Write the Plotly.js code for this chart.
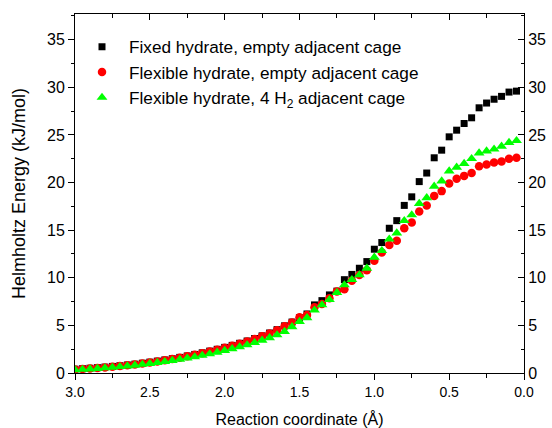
<!DOCTYPE html>
<html>
<head>
<meta charset="utf-8">
<script src="https://cdn.plot.ly/plotly-3.0.1.min.js"></script>
<style>html,body{margin:0;padding:0;background:#fff;}#chart{width:552px;height:428px;}</style>
</head>
<body>
<div id="chart"></div>
<script>
const reactionCoord = [3.00,2.95,2.90,2.85,2.80,2.75,2.70,2.65,2.60,2.55,2.50,2.45,2.40,2.35,2.30,2.25,2.20,2.15,2.10,2.05,
  2.00,1.95,1.90,1.85,1.80,1.75,1.70,1.65,1.60,1.55,1.50,1.45,1.40,1.35,1.30,1.25,1.20,1.15,1.10,1.05,
  1.00,0.95,0.90,0.85,0.80,0.75,0.70,0.65,0.60,0.55,0.50,0.45,0.40,0.35,0.30,0.25,0.20,0.15,0.10,0.05];

const fixedEmpty = [0.40,0.45,0.50,0.56,0.62,0.69,0.76,0.84,0.93,1.03,1.14,1.25,1.37,1.50,1.64,1.79,1.95,2.12,2.30,2.49,
  2.69,2.90,3.12,3.36,3.62,3.90,4.20,4.55,4.95,5.35,5.80,6.20,7.15,7.60,8.20,8.60,9.80,10.35,11.00,11.70,
  13.00,13.70,15.20,16.00,17.60,18.50,20.10,21.00,22.60,23.40,24.80,25.50,26.20,26.80,27.85,28.35,28.75,29.05,29.50,29.60];

const flexibleEmpty = [0.37,0.42,0.47,0.53,0.59,0.66,0.73,0.81,0.90,1.00,1.10,1.21,1.33,1.46,1.60,1.75,1.91,2.08,2.26,2.45,
  2.65,2.86,3.08,3.32,3.58,3.85,4.15,4.50,4.90,5.30,5.85,6.10,6.90,7.25,7.85,8.55,8.80,9.70,10.30,10.80,
  11.80,12.65,13.45,13.90,15.20,15.80,16.95,17.60,18.60,19.10,19.90,20.40,20.70,21.00,21.70,21.90,22.10,22.20,22.50,22.60];

const flexibleH2 = [0.33,0.37,0.42,0.47,0.53,0.59,0.66,0.73,0.81,0.90,0.99,1.09,1.19,1.30,1.42,1.55,1.69,1.84,2.00,2.17,
  2.35,2.54,2.74,2.95,3.18,3.43,3.70,4.00,4.35,4.85,5.40,5.80,6.60,7.15,7.70,8.45,9.25,9.80,10.30,11.00,
  12.15,12.85,14.05,14.70,16.00,16.60,17.80,18.40,19.60,20.15,21.20,21.60,22.00,22.50,23.10,23.30,23.50,23.80,24.20,24.40];

const seriesNames = ["Fixed hydrate, empty adjacent cage", "Flexible hydrate, empty adjacent cage", "Flexible hydrate, 4 H<sub>2</sub> adjacent cage"];
const yTickVals = [0,5,10,15,20,25,30,35];
const xTickVals = [3.0,2.5,2.0,1.5,1.0,0.5,0.0];
const xTickText = ["3.0","2.5","2.0","1.5","1.0","0.5","0.0"];

const FONT = "Liberation Sans, Arial, sans-serif";

const traces = [
  {x: reactionCoord, y: fixedEmpty, name: seriesNames[0], type: "scatter", mode: "markers",
   marker: {symbol: "square", size: 7, color: "#000000"}},
  {x: reactionCoord, y: flexibleEmpty, name: seriesNames[1], type: "scatter", mode: "markers",
   marker: {symbol: "circle", size: 8.5, color: "#ff0000"}},
  {x: reactionCoord, y: flexibleH2, name: seriesNames[2], type: "scatter", mode: "markers",
   xaxis: "x2", yaxis: "y2",
   marker: {symbol: "triangle-up", size: 9.5, color: "#00ff00"}}
];

const axCommon = {showgrid: false, zeroline: false, showline: true, linecolor: "#000", linewidth: 1,
  tickcolor: "#000", tickwidth: 1, ticklen: 6};

const layout = {
  width: 552, height: 428,
  margin: {l: 75, r: 28, t: 14, b: 55},
  paper_bgcolor: "#fff", plot_bgcolor: "#fff",
  font: {family: FONT, size: 14, color: "#000"},
  showlegend: true,
  legend: {x: 0.0, y: 0.958, xanchor: "left", yanchor: "top", bgcolor: "rgba(0,0,0,0)",
    font: {family: FONT, size: 17.2, color: "#000"}, itemsizing: "trace", itemwidth: 44, tracegroupgap: 0},
  xaxis: Object.assign({}, axCommon, {range: [3.0, 0.0], tickmode: "array", tickvals: xTickVals, ticktext: xTickText,
    ticks: "outside", tickfont: {family: FONT, size: 14},
    minor: {dtick: 0.25, ticklen: 3.5, tickcolor: "#000", ticks: "outside", showgrid: false},
    title: {text: "Reaction coordinate (Å)", font: {family: FONT, size: 16}, standoff: 28}}),
  yaxis: Object.assign({}, axCommon, {range: [0, 37.7], tickmode: "array", tickvals: yTickVals,
    ticks: "outside", tickfont: {family: FONT, size: 16},
    minor: {dtick: 2.5, ticklen: 3.5, tickcolor: "#000", ticks: "outside", showgrid: false},
    title: {text: "Helmholtz Energy (kJ/mol)", font: {family: FONT, size: 18}, standoff: 16}}),
  xaxis2: Object.assign({}, axCommon, {range: [3.0, 0.0], overlaying: "x", side: "top", anchor: "y2",
    tickmode: "array", tickvals: xTickVals, showticklabels: false, ticks: "inside",
    minor: {dtick: 0.25, ticklen: 3.5, tickcolor: "#000", ticks: "inside", showgrid: false}}),
  yaxis2: Object.assign({}, axCommon, {range: [0, 37.7], overlaying: "y", side: "right", anchor: "x2",
    tickmode: "array", tickvals: yTickVals, ticks: "inside", tickfont: {family: FONT, size: 16},
    minor: {dtick: 2.5, ticklen: 3.5, tickcolor: "#000", ticks: "inside", showgrid: false}})
};

Plotly.newPlot("chart", traces, layout, {staticPlot: true, displayModeBar: false});
</script>
</body>
</html>
